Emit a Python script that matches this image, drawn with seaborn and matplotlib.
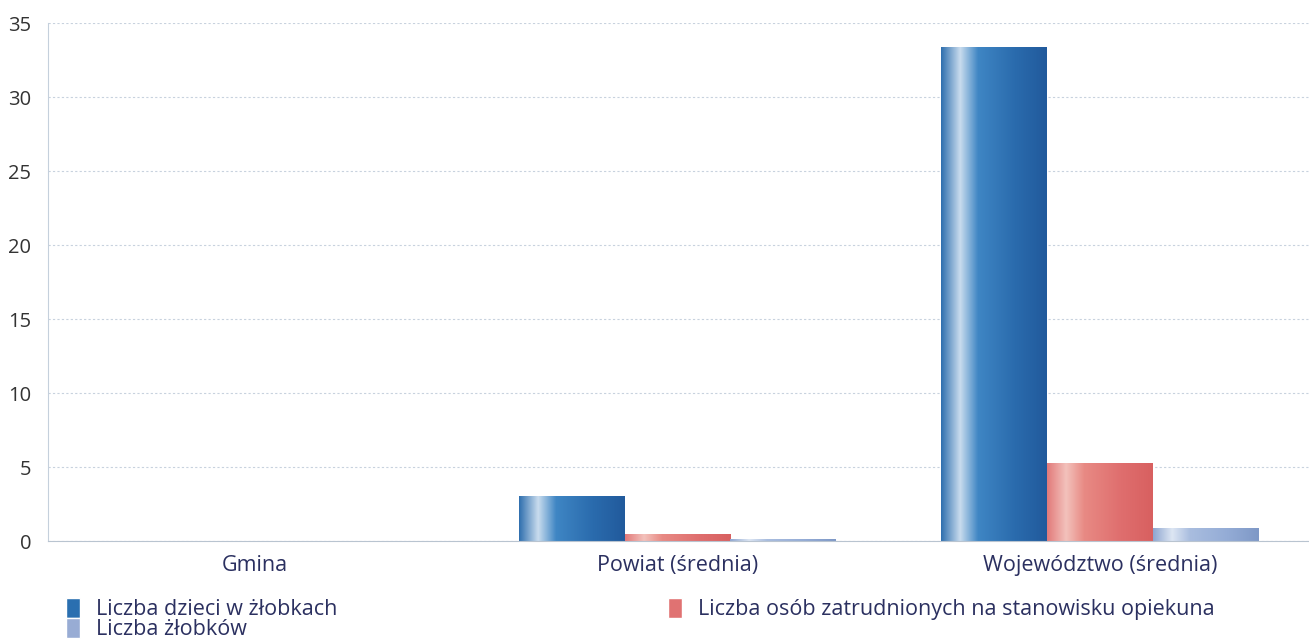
import numpy as np
import pandas as pd
import seaborn as sns
import matplotlib.pyplot as plt
from matplotlib.colors import LinearSegmentedColormap
from matplotlib.patches import Patch

categories = ["Gmina", "Powiat (średnia)", "Województwo (średnia)"]
series = ["Liczba dzieci w żłobkach", "Liczba osób zatrudnionych na stanowisku opiekuna", "Liczba żłobków"]
dzieci = [0, 3.05, 33.4]
opiekunowie = [0, 0.5, 5.3]
zlobki = [0, 0.15, 0.9]
yticks = [0, 5, 10, 15, 20, 25, 30, 35]

base_colors = ["#2a6fb0", "#e07272", "#98acd4"]
grad_stops = [
    ["#2f6fae", "#c9dcee", "#3f86c4", "#2a6bad", "#215a9c"],
    ["#e27a7a", "#f3c2bc", "#e88a84", "#df6e6e", "#d86060"],
    ["#8ea6d0", "#dde6f3", "#a9bddf", "#94acd6", "#7e98c6"],
]

df = pd.DataFrame({
    "cat": np.repeat(categories, 3),
    "series": series * 3,
    "val": [v for trip in zip(dzieci, opiekunowie, zlobki) for v in trip],
})

sns.set_theme(style="white")
plt.rcParams["font.family"] = ["Open Sans", "DejaVu Sans"]

fig = plt.figure(figsize=(13.09, 6.43), dpi=100)
ax = fig.add_axes([0.0367, 0.1586, 0.9633, 0.8056])

sns.barplot(data=df, x="cat", y="val", hue="series", hue_order=series,
            order=categories, palette=base_colors, width=0.75, ax=ax,
            legend=False, edgecolor="none", linewidth=0)

# gradient overlay clipped to each bar
for i, cont in enumerate(ax.containers):
    cmap = LinearSegmentedColormap.from_list(f"g{i}", list(zip([0, 0.18, 0.35, 0.7, 1.0], grad_stops[i])))
    grad = np.linspace(0, 1, 256).reshape(1, -1)
    for p in cont.patches:
        x0, y0 = p.get_x(), p.get_y()
        w, h = p.get_width(), p.get_height()
        if h <= 0:
            continue
        im = ax.imshow(grad, cmap=cmap, aspect="auto",
                       extent=[x0, x0 + w, y0, y0 + h], zorder=p.get_zorder() + 0.1)
        im.set_clip_path(p)

ax.set_xlim(-0.49, 2.495)
ax.set_ylim(0, 35)
ax.set_yticks(yticks)
ax.set_yticklabels([str(t) for t in yticks], fontsize=14.5, color="#333333")
ax.set_xticks(range(len(categories)))
ax.set_xticklabels(categories, fontsize=15.5, color="#2b3060")
ax.set_xlabel("")
ax.set_ylabel("")
ax.tick_params(axis="x", length=0, pad=10)
ax.tick_params(axis="y", length=0, pad=12)

ax.grid(axis="y", color="#c8d2de", linestyle=(0, (2, 2)), linewidth=0.8)
ax.set_axisbelow(True)
for s in ["top", "right"]:
    ax.spines[s].set_visible(False)
ax.spines["left"].set_color("#c5d0dc")
ax.spines["left"].set_linewidth(0.8)
ax.spines["bottom"].set_color("#b9c4d0")
ax.spines["bottom"].set_linewidth(0.8)

handles = [Patch(facecolor=base_colors[0]), Patch(facecolor=base_colors[2]), Patch(facecolor=base_colors[1])]
labels = [series[0], series[2], series[1]]
fig.legend(handles, labels, loc="lower left", bbox_to_anchor=(0.036, -0.026), ncol=2,
           frameon=False, fontsize=15.5, handlelength=0.65, handleheight=1.05,
           handletextpad=0.7, columnspacing=15.4, labelspacing=-0.1,
           labelcolor="#2b3060")

fig.savefig("out.png", dpi=100)
